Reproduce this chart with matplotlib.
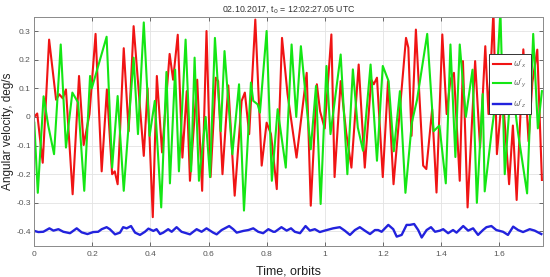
import numpy as np
import matplotlib
matplotlib.use('Agg')
import matplotlib.pyplot as plt

# omega'_x (red), read at its turning points
wx_t = [0.000, 0.010, 0.029, 0.051, 0.075, 0.086, 0.098, 0.109, 0.132, 0.154, 0.170, 0.190,
        0.211, 0.232, 0.250, 0.268, 0.277, 0.287, 0.308, 0.325, 0.342, 0.377, 0.390, 0.408,
        0.422, 0.440, 0.466, 0.478, 0.494, 0.510, 0.525, 0.536, 0.561, 0.578, 0.593, 0.607,
        0.625, 0.633, 0.648, 0.668, 0.690, 0.714, 0.725, 0.740, 0.761, 0.783, 0.800, 0.815,
        0.835, 0.853, 0.872, 0.903, 0.938, 0.952, 0.973, 0.984, 1.000, 1.023, 1.034, 1.055,
        1.074, 1.092, 1.117, 1.138, 1.160, 1.169, 1.180, 1.200, 1.218, 1.237, 1.280, 1.288,
        1.299, 1.314, 1.339, 1.350, 1.370, 1.385, 1.405, 1.420, 1.433, 1.445, 1.465, 1.476,
        1.492, 1.518, 1.535, 1.553, 1.564, 1.581, 1.593, 1.612, 1.635, 1.648, 1.661, 1.684,
        1.702, 1.715, 1.732, 1.748]
wx_v = [0.000, 0.012, -0.160, 0.270, 0.060, 0.079, 0.065, 0.096, -0.270, 0.143, -0.098, 0.010,
        0.290, -0.190, 0.096, -0.200, -0.190, -0.235, 0.240, -0.050, 0.317, -0.136, 0.100, -0.350,
        0.143, -0.124, 0.220, 0.130, 0.287, -0.142, 0.090, -0.223, 0.130, -0.258, 0.300, -0.210,
        0.137, 0.125, -0.200, 0.110, -0.275, 0.056, 0.085, -0.060, 0.340, -0.170, -0.020, -0.060,
        -0.252, 0.276, 0.080, -0.142, 0.154, -0.310, 0.114, 0.020, -0.040, 0.288, -0.210, 0.125,
        -0.055, -0.177, 0.183, -0.177, 0.130, 0.114, 0.137, -0.210, 0.125, -0.235, 0.276, 0.242,
        -0.066, 0.305, -0.170, -0.182, 0.027, -0.264, 0.288, 0.010, 0.131, 0.154, -0.223, 0.195,
        -0.316, 0.195, -0.107, 0.247, 0.010, 0.370, -0.130, 0.090, -0.235, -0.030, -0.290, 0.236,
        -0.085, 0.120, 0.235, -0.220]

# omega'_y (green)
wy_t = [0.000, 0.012, 0.032, 0.048, 0.068, 0.091, 0.109, 0.131, 0.151, 0.172, 0.192, 0.198,
        0.249, 0.268, 0.287, 0.308, 0.342, 0.357, 0.377, 0.397, 0.415, 0.437, 0.455, 0.467,
        0.485, 0.498, 0.521, 0.540, 0.552, 0.567, 0.590, 0.605, 0.622, 0.642, 0.655, 0.682,
        0.705, 0.722, 0.746, 0.754, 0.769, 0.777, 0.800, 0.818, 0.838, 0.866, 0.886, 0.902,
        0.918, 0.952, 0.970, 0.986, 1.006, 1.020, 1.055, 1.078, 1.097, 1.114, 1.132, 1.158,
        1.180, 1.200, 1.220, 1.238, 1.259, 1.278, 1.300, 1.318, 1.353, 1.375, 1.395, 1.417,
        1.433, 1.450, 1.465, 1.486, 1.509, 1.524, 1.544, 1.551, 1.575, 1.588, 1.605, 1.620,
        1.643, 1.665, 1.697, 1.718, 1.734, 1.748]
wy_v = [-0.020, -0.265, 0.072, -0.030, -0.130, 0.253, -0.107, 0.085, 0.050, -0.258, 0.143, 0.100,
        0.280, -0.177, 0.073, -0.258, 0.207, -0.060, 0.330, -0.066, 0.056, -0.316, 0.157, -0.232,
        0.165, -0.190, 0.270, -0.190, 0.207, -0.223, 0.000, -0.210, 0.276, -0.050, 0.230, -0.130,
        0.114, -0.327, 0.120, 0.056, 0.044, 0.015, 0.300, -0.223, 0.027, -0.177, 0.253, 0.000,
        0.247, -0.113, 0.108, -0.304, 0.178, -0.060, 0.218, -0.200, 0.166, -0.037, -0.118, 0.183,
        -0.153, 0.178, 0.125, -0.120, 0.090, -0.265, -0.020, 0.060, 0.290, -0.050, -0.030, -0.232,
        0.253, -0.140, 0.253, 0.000, 0.165, -0.300, 0.080, -0.260, -0.050, 0.050, 0.370, -0.200,
        0.135, -0.050, -0.267, 0.290, -0.040, 0.090]

# omega'_z (blue)
wz_t = [0.000, 0.014, 0.031, 0.052, 0.066, 0.083, 0.100, 0.123, 0.146, 0.163, 0.183, 0.203,
        0.220, 0.232, 0.249, 0.260, 0.278, 0.295, 0.306, 0.318, 0.333, 0.347, 0.364, 0.381,
        0.393, 0.410, 0.421, 0.433, 0.444, 0.461, 0.473, 0.490, 0.507, 0.536, 0.559, 0.576,
        0.593, 0.616, 0.628, 0.645, 0.671, 0.685, 0.697, 0.720, 0.737, 0.754, 0.771, 0.788,
        0.806, 0.823,
        0.829, 0.851, 0.869, 0.884, 0.897, 0.915, 0.934, 0.949, 0.966, 0.983, 1.000, 1.029,
        1.052, 1.069, 1.087, 1.104, 1.121, 1.138, 1.156, 1.173, 1.184, 1.196, 1.219, 1.236,
        1.248, 1.265, 1.282, 1.293, 1.308, 1.322, 1.334, 1.351, 1.366, 1.380, 1.397, 1.408,
        1.425, 1.442, 1.454, 1.477, 1.494, 1.511, 1.528, 1.545, 1.557, 1.574, 1.591, 1.614,
        1.631, 1.649, 1.666, 1.683, 1.706, 1.723, 1.746]
wz_v = [-0.398, -0.402, -0.401, -0.389, -0.397, -0.392, -0.401, -0.406, -0.389, -0.403, -0.409, -0.402,
        -0.401, -0.392, -0.385, -0.392, -0.410, -0.404, -0.385, -0.389, -0.381, -0.404, -0.412, -0.401,
        -0.390, -0.398, -0.392, -0.409, -0.404, -0.392, -0.401, -0.385, -0.401, -0.410, -0.392, -0.401,
        -0.389, -0.404, -0.410, -0.395, -0.381, -0.392, -0.404, -0.398, -0.395, -0.389, -0.401, -0.406,
        -0.392, -0.401,
        -0.401, -0.385, -0.397, -0.389, -0.401, -0.406, -0.381, -0.397, -0.392, -0.402, -0.397, -0.389,
        -0.385, -0.397, -0.412, -0.395, -0.385, -0.397, -0.409, -0.395, -0.395, -0.401, -0.377, -0.392,
        -0.418, -0.412, -0.377, -0.377, -0.374, -0.395, -0.421, -0.395, -0.385, -0.401, -0.397, -0.392,
        -0.406, -0.395, -0.404, -0.381, -0.397, -0.389, -0.412, -0.395, -0.385, -0.381, -0.395, -0.401,
        -0.412, -0.383, -0.395, -0.402, -0.392, -0.397, -0.409]

x_ticks = [0, 0.2, 0.4, 0.6, 0.8, 1.0, 1.2, 1.4, 1.6]
x_tick_labels = ['0', '0.2', '0.4', '0.6', '0.8', '1', '1.2', '1.4', '1.6']
y_ticks = [-0.4, -0.3, -0.2, -0.1, 0, 0.1, 0.2, 0.3]
y_tick_labels = ['-0.4', '-0.3', '-0.2', '-0.1', '0', '0.1', '0.2', '0.3']

plt.rcParams['font.family'] = ['Liberation Sans', 'DejaVu Sans']

fig = plt.figure(figsize=(5.5, 2.77), dpi=100)
ax = fig.add_axes([34.3 / 550, 1 - 245.8 / 277, (542.5 - 34.3) / 550, (245.8 - 16.7) / 277])

ax.plot(wx_t, wx_v, color='#f01414', lw=1.5, solid_joinstyle='round', label="$\\omega'_x$")
ax.plot(wy_t, wy_v, color='#14e614', lw=1.5, solid_joinstyle='round', label="$\\omega'_y$")
ax.plot(wz_t, wz_v, color='#2222dd', lw=1.7, solid_joinstyle='round', label="$\\omega'_z$")

ax.set_xlim(0, 1.75)
ax.set_ylim(-0.45, 0.35)
ax.set_xticks(x_ticks)
ax.set_xticklabels(x_tick_labels)
ax.set_yticks(y_ticks)
ax.set_yticklabels(y_tick_labels)
ax.tick_params(direction='in', length=3, width=0.6, labelsize=6, colors='#555555',
               top=True, right=True)
ax.tick_params(axis='y', pad=2.5)
ax.tick_params(axis='x', pad=4)
ax.grid(True, color='#e3e3e3', lw=0.6)
ax.set_axisbelow(True)
for s in ax.spines.values():
    s.set_color('#8a8a8a')
    s.set_linewidth(0.7)

ax.set_title('02.10.2017, t$_0$ = 12:02:27.05 UTC', fontsize=6.3, color='#333333', pad=4)
ax.set_xlabel('Time, orbits', fontsize=9, color='#222222', labelpad=5)
ax.set_ylabel('Angular velocity, deg/s', fontsize=8.5, color='#222222')
ax.yaxis.set_label_coords(-0.039, 0.5)

leg = ax.legend(loc='upper right', bbox_to_anchor=(0.977, 0.837), fontsize=5.5,
                handlelength=2.3, labelspacing=0.9, borderpad=0.5, handletextpad=0.3,
                fancybox=False, framealpha=1, edgecolor='#333333', borderaxespad=0)
leg.get_frame().set_linewidth(0.7)
for t in leg.get_texts():
    t.set_color('#666666')

fig.savefig('out.png', dpi=100)
